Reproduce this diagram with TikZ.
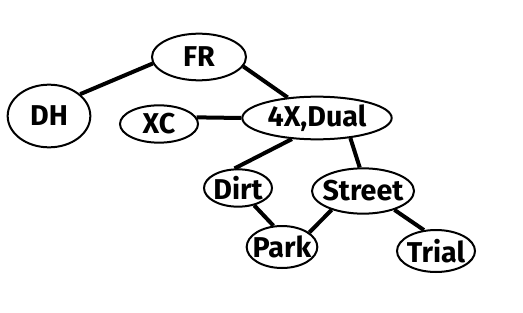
\documentclass[tikz,border=0pt]{standalone}
\usepackage{fontspec}
\setmainfont{Fira Sans}
\usetikzlibrary{shapes.geometric}
\newcommand{\bname}[1]{\makebox[0pt]{#1}}
\tikzset{
  every picture/.style={font=\fontsize{21.5}{24}\selectfont\bfseries},
  bubble/.style={ellipse, draw=black, line width=1.5pt, inner sep=0pt},
  link/.style={draw=black, line width=3pt},
}

\begin{document}
\begin{tikzpicture}[x=0.75pt, y=-0.75pt]
  \useasboundingbox[fill=white] (0,0) rectangle (523,313);
  \node[bubble, minimum width=70.5pt, minimum height=35pt] (fr) at (199,57) {\bname{FR}};
  \node[bubble, minimum width=62pt, minimum height=47pt] (dh) at (49,116) {\bname{DH}};
  \node[bubble, minimum width=58.5pt, minimum height=28pt] (xc) at (159,124) {\bname{XC}};
  \node[bubble, minimum width=112pt, minimum height=32pt] (dual) at (317,118) {\bname{4X,Dual}};
  \node[bubble, minimum width=51pt, minimum height=28pt] (dirt) at (238,188) {\bname{Dirt}};
  \node[bubble, minimum width=76.5pt, minimum height=34pt] (street) at (363,191) {\bname{Street}};
  \node[bubble, minimum width=53pt, minimum height=31.5pt] (park) at (282,247) {\bname{Park}};
  \node[bubble, minimum width=58.5pt, minimum height=31.5pt] (trial) at (436,251) {\bname{Trial}};
  % links of the tree
  \draw[link] (dh.35) -- (fr.188);
  \draw[link] (fr.-12) -- (dual.145);
  \draw[link] (xc.10) -- (dual.west);
  \draw[link] (dual.220) -- (dirt.100);
  \draw[link] (dual.-31) -- (street.98);
  \draw[link] (dirt.-47) -- (park.112);
  \draw[link] (street.211) -- (park.28);
  \draw[link] (street.-31) -- (trial.120);
\end{tikzpicture}
\end{document}
